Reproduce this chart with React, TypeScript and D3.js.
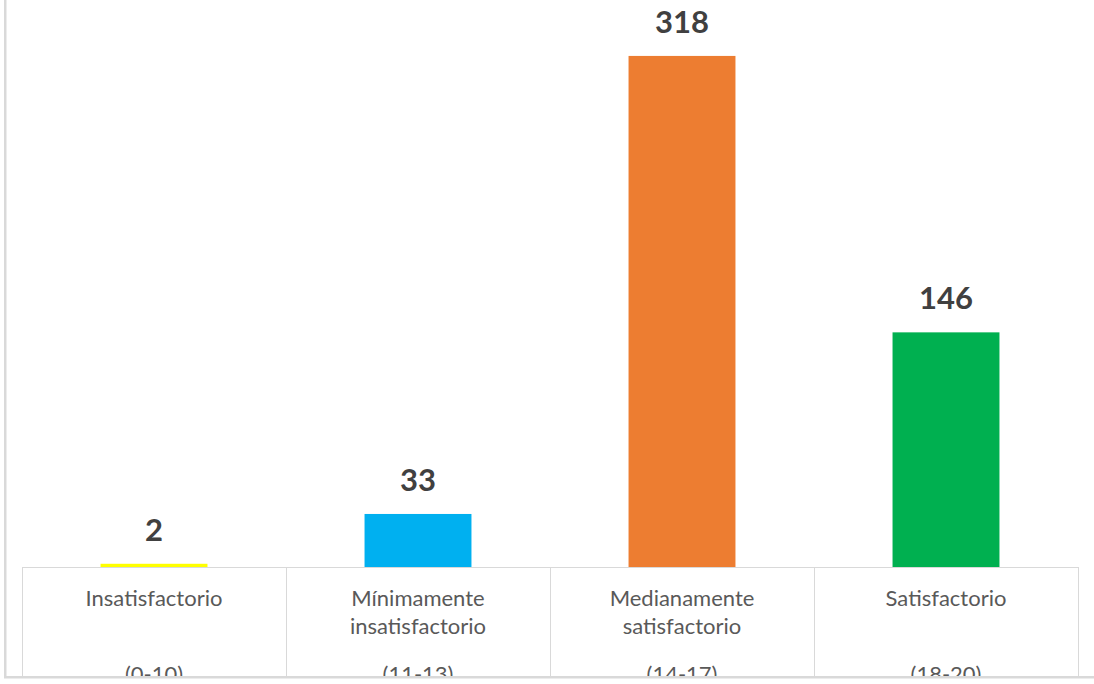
import React from "react";
import * as d3 from "d3";

const categories = ["Insatisfactorio", "Mínimamente insatisfactorio", "Medianamente satisfactorio", "Satisfactorio"];
const categoryLines = [
  ["Insatisfactorio", ""],
  ["Mínimamente", "insatisfactorio"],
  ["Medianamente", "satisfactorio"],
  ["Satisfactorio", ""],
];
const ranges = ["(0-10)", "(11-13)", "(14-17)", "(18-20)"];
const values = [2, 33, 318, 146];
const colors = ["#FFFF00", "#00B0F0", "#ED7D31", "#00B050"];

const W = 1094;
const H = 684;
const plotLeft = 22;
const plotRight = 1078;
const baseY = 567;
const bottomY = 677;

export default function App() {
  const x = d3.scaleBand<string>().domain(categories).range([plotLeft, plotRight]).paddingInner(0).paddingOuter(0);
  const y = d3.scaleLinear().domain([0, 350]).range([baseY, 4.5]);
  const bw = x.bandwidth() * 0.405;
  const font = "Lato, 'Open Sans', sans-serif";
  return (
    <svg width={W} height={H} style={{ position: "absolute", left: 0, top: 0, background: "#fff" }}>
      <defs>
        <clipPath id="clipBottom">
          <rect x={0} y={0} width={W} height={bottomY - 1} />
        </clipPath>
      </defs>
      <rect x={0} y={0} width={W} height={H} fill="#fff" />
      {/* outer borders */}
      <rect x={4} y={0} width={2.5} height={bottomY} fill="#d9d9d9" />
      <rect x={4} y={bottomY - 1} width={W - 4} height={2.5} fill="#d9d9d9" />
      {/* bars */}
      {values.map((v, i) => {
        const cx = (x(categories[i]) as number) + x.bandwidth() / 2;
        return (
          <g key={i}>
            <rect x={cx - bw / 2} y={y(v)} width={bw} height={baseY - y(v)} fill={colors[i]} />
            <text x={cx} y={y(v) - 23} textAnchor="middle" fontFamily={font} fontWeight={700} fontSize={31} fill="#404040">
              {v}
            </text>
          </g>
        );
      })}
      {/* category table */}
      <line x1={plotLeft} x2={plotRight} y1={baseY + 0.5} y2={baseY + 0.5} stroke="#d9d9d9" strokeWidth={1} />
      {categories.map((c, i) => {
        const x0 = x(c) as number;
        return <line key={"v" + i} x1={Math.round(x0) + 0.5} x2={Math.round(x0) + 0.5} y1={baseY} y2={bottomY} stroke="#d9d9d9" strokeWidth={1} />;
      })}
      <line x1={plotRight + 0.5} x2={plotRight + 0.5} y1={baseY} y2={bottomY} stroke="#d9d9d9" strokeWidth={1} />
      <g clipPath="url(#clipBottom)">
        {categories.map((c, i) => {
          const cx = (x(c) as number) + x.bandwidth() / 2;
          return (
            <g key={"t" + i} fontFamily={font} fontSize={22} fill="#595959" textAnchor="middle">
              <text x={cx} y={606}>{categoryLines[i][0]}</text>
              {categoryLines[i][1] && <text x={cx} y={634}>{categoryLines[i][1]}</text>}
              <text x={cx} y={682}>{ranges[i]}</text>
            </g>
          );
        })}
      </g>
    </svg>
  );
}
